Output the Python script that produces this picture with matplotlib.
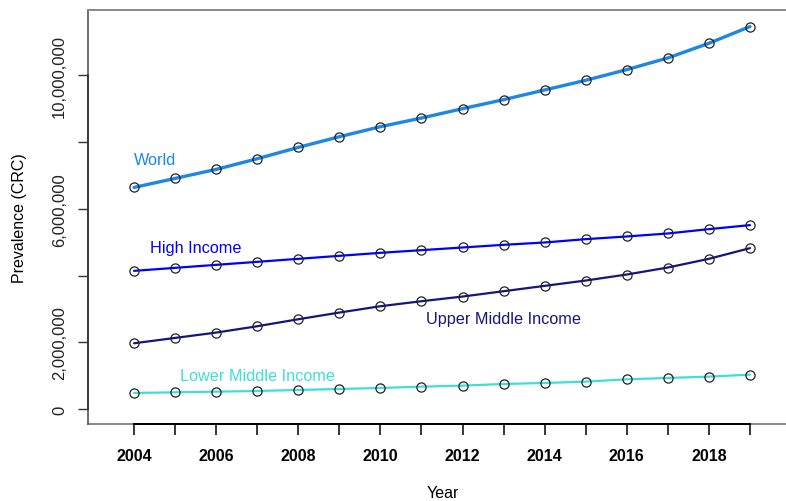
import matplotlib
matplotlib.use("Agg")
import matplotlib.pyplot as plt
from matplotlib.lines import Line2D

plt.rcParams['font.family'] = ['Liberation Sans', 'DejaVu Sans']

years = list(range(2004, 2020))
world = [6.64, 6.91, 7.18, 7.50, 7.84, 8.16, 8.46, 8.72, 9.00, 9.27, 9.56, 9.85, 10.17, 10.52, 10.96, 11.46]
high_income = [4.14, 4.23, 4.32, 4.41, 4.50, 4.59, 4.68, 4.76, 4.84, 4.92, 4.99, 5.09, 5.17, 5.26, 5.39, 5.51]
upper_middle = [1.97, 2.13, 2.29, 2.48, 2.69, 2.89, 3.08, 3.23, 3.37, 3.53, 3.69, 3.85, 4.03, 4.24, 4.50, 4.82]
lower_middle = [0.48, 0.50, 0.52, 0.54, 0.57, 0.60, 0.63, 0.67, 0.70, 0.75, 0.78, 0.82, 0.89, 0.93, 0.97, 1.03]

series_names = ["World", "High Income", "Upper Middle Income", "Lower Middle Income"]
series_values = [world, high_income, upper_middle, lower_middle]
series_colors = ["#1E86E6", "#0000FF", "#151580", "#3EDFD8"]
series_widths = [2.4, 1.6, 1.6, 1.6]
label_pos = [(2004.5, 7.49), (2005.5, 4.85), (2013.0, 2.70), (2007.0, 0.99)]

y_ticks = [0, 2, 4, 6, 8, 10]
y_tick_labels = ["0", "2,000,000", "", "6,000,000", "", "10,000,000"]

fig = plt.figure(figsize=(7.86, 5.02), dpi=100)
ax = fig.add_axes([88 / 786, 77 / 502, 709 / 786, 414 / 502])

for vals, col, lw in zip(series_values, series_colors, series_widths):
    yv = [v * 1e6 for v in vals]
    ax.plot(years, yv, color=col, lw=lw, zorder=2, solid_capstyle='round')
    ax.plot(years, yv, linestyle='none', marker='o', markersize=6.6,
            markerfacecolor='none', markeredgecolor='#222222',
            markeredgewidth=0.9, zorder=3)

for name, col, (lx, ly) in zip(series_names, series_colors, label_pos):
    ax.text(lx, ly * 1e6, name, color=col, fontsize=11.7, ha='center', va='center')

ax.set_xlim(2002.878, 2020.146)
ax.set_ylim(-0.4495e6, 11.957e6)

ax.set_xticks(years)
ax.set_xticklabels([str(y) if y % 2 == 0 else "" for y in years],
                   fontsize=11.5, fontweight='bold')
ax.set_yticks([t * 1e6 for t in y_ticks])
ax.set_yticklabels(y_tick_labels, fontsize=12, rotation=90, va='center',
                   color='#222222')

ax.tick_params(axis='x', direction='out', length=8, width=1.1, pad=9, color='black')
ax.tick_params(axis='y', direction='out', length=7, width=1.0, pad=8, color='#333333')

# gray frame around the plotting region
for side in ['top', 'right']:
    ax.spines[side].set_color('#888888')
    ax.spines[side].set_linewidth(1.4)
ax.spines['bottom'].set_bounds(2004, 2019)
ax.spines['bottom'].set_color('black')
ax.spines['bottom'].set_linewidth(1.4)
ax.spines['left'].set_bounds(0, 10e6)
ax.spines['left'].set_color('#333333')
ax.spines['left'].set_linewidth(1.2)
ax.add_line(Line2D([0, 1], [0, 0], transform=ax.transAxes, color='#888888',
                   lw=1.4, zorder=0.5, clip_on=False))
ax.add_line(Line2D([0, 0], [0, 1], transform=ax.transAxes, color='#555555',
                   lw=1.2, zorder=0.5, clip_on=False))

ax.set_xlabel("Year", fontsize=11.5, va='top')
ax.xaxis.set_label_coords(0.5, (425 - 486) / 414)
fig.text(20 / 786, 1 - 218 / 502, "Prevalence (CRC)", fontsize=11.5,
         rotation=90, ha='center', va='center')

fig.savefig("out.png", dpi=100)
